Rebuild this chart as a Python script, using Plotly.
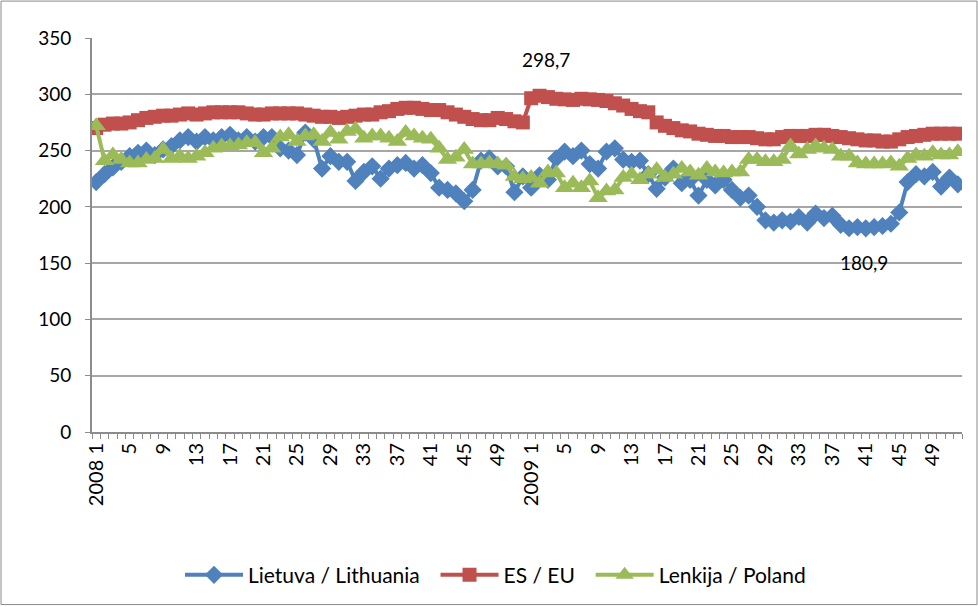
import plotly.graph_objects as go

# ---- data (weekly, 2008 weeks 1-52, 2009 weeks 1-52) ----
years = ["2008", "2009"]
weeks = list(range(1, 53))

lithuania_2008 = [222, 229, 235, 240, 245, 248, 250, 246, 251, 254,
                  259, 262, 258, 262, 259, 262, 264, 259, 262, 258,
                  262, 262, 252, 250, 246, 266, 260, 234, 245, 240,
                  240, 223, 231, 236, 225, 234, 237, 239, 234, 237,
                  230, 217, 215, 212, 205, 215, 241, 243, 236, 236,
                  213, 227]
lithuania_2009 = [217, 228, 224, 243, 249, 245, 250, 238, 234, 249,
                  252, 242, 240, 241, 229, 216, 226, 234, 221, 224,
                  210, 224, 219, 224, 215, 208, 210, 200, 188, 186,
                  188, 187, 191, 186, 194, 190, 192, 184, 181, 182,
                  180.9, 182, 183, 185, 195, 222, 229, 227, 231, 218,
                  226, 220]
eu_2008 = [270, 273, 274, 274, 275, 277, 279, 280, 281, 281,
           282, 283, 282, 283, 284, 284, 284, 284, 283, 282,
           282, 283, 283, 283, 283, 282, 281, 280, 280, 279,
           280, 281, 282, 282, 284, 285, 287, 288, 288, 287,
           286, 286, 284, 282, 280, 278, 277, 277, 279, 278,
           276, 275]
eu_2009 = [296.5, 298.7, 297.5, 296, 295.5, 295, 296, 295.5, 295, 294,
           292, 290, 287, 285, 284, 275, 272, 270, 268, 267,
           265, 264, 263, 263, 262, 262, 262, 261, 260, 260,
           262, 263, 263, 263, 264, 264, 263, 262, 261, 260,
           259, 259, 258, 258, 260, 262, 263, 264, 265, 265,
           265, 265]
poland_2008 = [272, 241, 246, 242, 239, 239, 242, 243, 251, 243,
               245, 243, 245, 248, 252, 254, 254, 255, 257, 257,
               248, 252, 262, 264, 258, 263, 264, 258, 266, 260,
               267, 269, 261, 263, 263, 261, 258, 266, 263, 261,
               260, 252, 242, 244, 251, 238, 238, 239, 238, 237,
               227, 225]
poland_2009 = [226, 221, 231, 230, 217, 221, 217, 223, 208, 214,
               215, 226, 229, 224, 229, 233, 226, 229, 234, 231,
               228, 234, 231, 230, 231, 231, 242, 242, 240, 240,
               242, 254, 247, 251, 254, 252, 251, 245, 245, 239,
               238, 238, 238, 239, 236, 243, 246, 245, 248, 246,
               246, 249]

series_names = ["Lietuva / Lithuania", "ES / EU", "Lenkija / Poland"]
y_ticks = [0, 50, 100, 150, 200, 250, 300, 350]
label_every = 4

# ---- derived ----
lithuania = lithuania_2008 + lithuania_2009
eu = eu_2008 + eu_2009
poland = poland_2008 + poland_2009
n = len(lithuania)
x = list(range(n))

tickvals, ticktext = [], []
for yi, yr in enumerate(years):
    for wi, w in enumerate(weeks):
        if wi % label_every == 0:
            tickvals.append(yi * len(weeks) + wi)
            ticktext.append(f"{yr} {w}" if w == 1 else str(w))

FONT = "Lato"
colors = ["#4F81BD", "#C0504D", "#9BBB59"]
symbols = ["diamond", "square", "triangle-up"]
sizes = [14, 14, 17]

fig = go.Figure()
for name, ys, c, s, sz in zip(series_names, [lithuania, eu, poland], colors, symbols, sizes):
    fig.add_trace(go.Scatter(
        x=x, y=ys, name=name + "  ", mode="lines+markers",
        line=dict(color=c, width=4),
        marker=dict(symbol=s, size=sz, color=c, line=dict(width=0)),
    ))

imax = eu.index(max(eu))
imin = lithuania.index(min(lithuania))
fig.add_annotation(x=imax, y=eu[imax], text=f"{eu[imax]:.1f}".replace(".", ","),
                   showarrow=False, xshift=6, yshift=36,
                   font=dict(family=FONT, size=19, color="black"))
fig.add_annotation(x=imin, y=lithuania[imin], text=f"{lithuania[imin]:.1f}".replace(".", ","),
                   showarrow=False, xshift=-2, yshift=-34,
                   font=dict(family=FONT, size=19, color="black"))

W, H = 978, 607
L, R, T, B = 92, 16, 38, 174
pw, ph = W - L - R, H - T - B
fig.add_shape(type="rect", xref="paper", yref="paper",
              x0=(1 - L) / pw, x1=(W - 1 - L) / pw,
              y0=-(B - 1) / ph, y1=(H - B - 1) / ph,
              line=dict(color="#8a8a8a", width=1), layer="below")

fig.update_layout(
    width=W, height=H,
    margin=dict(l=L, r=R, t=T, b=B),
    paper_bgcolor="white", plot_bgcolor="white",
    font=dict(family=FONT, size=19, color="black"),
    showlegend=True,
    legend=dict(orientation="h", x=(501 - L) / pw, xanchor="center", y=-0.36, yanchor="middle",
                font=dict(family=FONT, size=21), itemwidth=58, traceorder="normal",
                bgcolor="rgba(0,0,0,0)"),
    xaxis=dict(
        range=[-0.5, n - 0.5], tickmode="array", tickvals=tickvals, ticktext=ticktext,
        tickangle=-90, ticks="", showgrid=False, zeroline=False,
        showline=True, linecolor="#8c8c8c", linewidth=2,
        ticklabelstandoff=1,
        minor=dict(tickmode="linear", tick0=-0.5, dtick=1, ticks="outside",
                   ticklen=5, tickcolor="#8c8c8c", showgrid=False),
        tickfont=dict(family=FONT, size=20),
    ),
    yaxis=dict(
        range=[0, 350], tickmode="array", tickvals=y_ticks,
        ticks="outside", ticklen=5, tickcolor="#8c8c8c",
        showgrid=True, gridcolor="#a6a6a6", gridwidth=1.5, zeroline=False,
        showline=True, linecolor="#8c8c8c", linewidth=2,
        ticklabelstandoff=10,
        tickfont=dict(family=FONT, size=19),
    ),
)

fig.write_html("out.html", config={"displayModeBar": False},
               post_script="document.body.style.margin='0px';")
